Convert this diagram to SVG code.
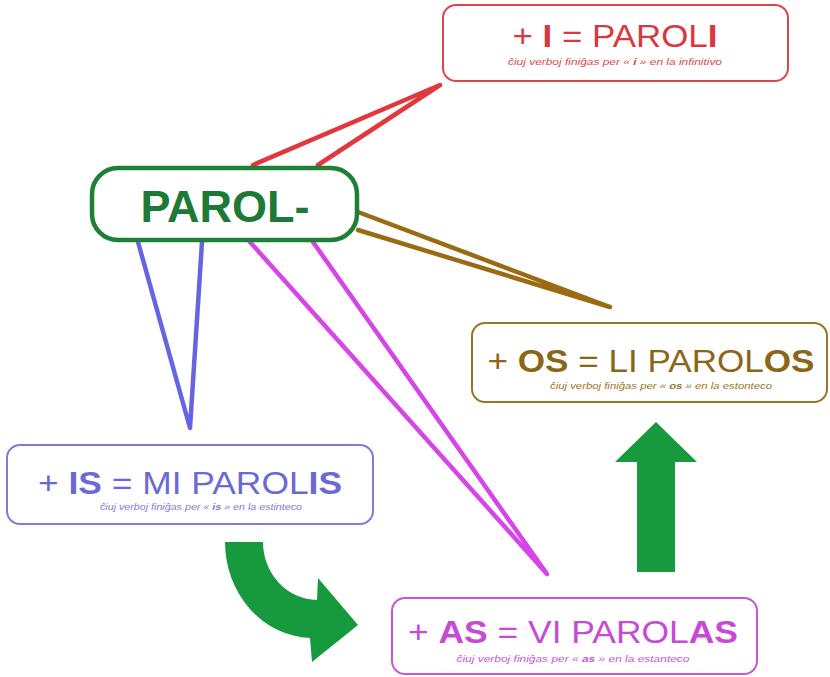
<svg xmlns="http://www.w3.org/2000/svg" width="830" height="677" viewBox="0 0 830 677">
<style>
.box{fill:#fff;stroke-width:2}
.main{font-family:"Liberation Sans",Arial,sans-serif;font-size:31px;text-anchor:middle}
.sub{font-family:"Liberation Sans",Arial,sans-serif;font-size:9px;font-style:italic;text-anchor:middle}
.b{font-weight:bold}
.con{fill:none;stroke-width:4.5;stroke-linecap:round;stroke-linejoin:round}
.big{fill:#179a3e}
</style>
<rect width="830" height="677" fill="#fff"/>
<g id="connectors">
<polyline class="con" stroke="#e0383c" points="253,165 440,85 318,165"/>
<polyline class="con" stroke="#9a6b12" points="358,212 610,307 358,230"/>
<polyline class="con" stroke="#6565e2" points="138,242 190,428 202,242"/>
<polyline class="con" stroke="#d646e6" points="250,242 547,574 313,242"/>
</g>
<g id="root">
<rect x="92" y="168" width="265" height="72" rx="26" fill="#fff" stroke="#1f7f36" stroke-width="4.5"/>
<text x="225" y="222" font-family="'Liberation Sans',Arial,sans-serif" font-size="45" font-weight="bold" fill="#1d7a36" text-anchor="middle">PAROL-</text>
</g>
<g id="node-i">
<rect class="box" x="443" y="5" width="345" height="76" rx="13" stroke="#d9474b"/>
<text class="main" x="615" y="47" fill="#d9393e" textLength="205" lengthAdjust="spacingAndGlyphs">+ <tspan class="b">I</tspan> = PAROL<tspan class="b">I</tspan></text>
<text class="sub" x="615" y="65" fill="#d9474b" textLength="214" lengthAdjust="spacingAndGlyphs">ĉiuj verboj finiĝas per « <tspan class="b">i</tspan> » en la infinitivo</text>
</g>
<g id="node-os">
<rect class="box" x="472" y="323" width="355" height="79" rx="13" stroke="#9a7424"/>
<text class="main" x="651" y="372" fill="#8c6618" font-size="32" textLength="327" lengthAdjust="spacingAndGlyphs">+ <tspan class="b">OS</tspan> = LI PAROL<tspan class="b">OS</tspan></text>
<text class="sub" x="661" y="389" fill="#9a7424" textLength="222" lengthAdjust="spacingAndGlyphs">ĉiuj verboj finiĝas per « <tspan class="b">os</tspan> » en la estonteco</text>
</g>
<g id="node-is">
<rect class="box" x="7" y="445" width="366" height="79" rx="13" stroke="#7b7be0"/>
<text class="main" x="190" y="494" fill="#6a6ad6" font-size="32" textLength="304" lengthAdjust="spacingAndGlyphs">+ <tspan class="b">IS</tspan> = MI PAROL<tspan class="b">IS</tspan></text>
<text class="sub" x="201" y="510" fill="#7b7be0" textLength="202" lengthAdjust="spacingAndGlyphs">ĉiuj verboj finiĝas per « <tspan class="b">is</tspan> » en la estinteco</text>
</g>
<g id="node-as">
<rect class="box" x="392" y="598" width="365" height="76" rx="13" stroke="#c755da"/>
<text class="main" x="573" y="643" fill="#c64ad6" font-size="32" textLength="330" lengthAdjust="spacingAndGlyphs">+ <tspan class="b">AS</tspan> = VI PAROL<tspan class="b">AS</tspan></text>
<text class="sub" x="573" y="662" fill="#c755da" textLength="233" lengthAdjust="spacingAndGlyphs">ĉiuj verboj finiĝas per « <tspan class="b">as</tspan> » en la estanteco</text>
</g>
<g id="arrow-curved">
<path class="big" d="M225,542 L263,542 A55,58 0 0 0 317,600 L318,578 L358,625 L312,662 L310,638 A88,96 0 0 1 225,542 Z"/>
</g>
<g id="arrow-up">
<path class="big" d="M656,422 L697,462 L675,462 L675,572 L637,572 L637,462 L615,462 Z"/>
</g>
</svg>
